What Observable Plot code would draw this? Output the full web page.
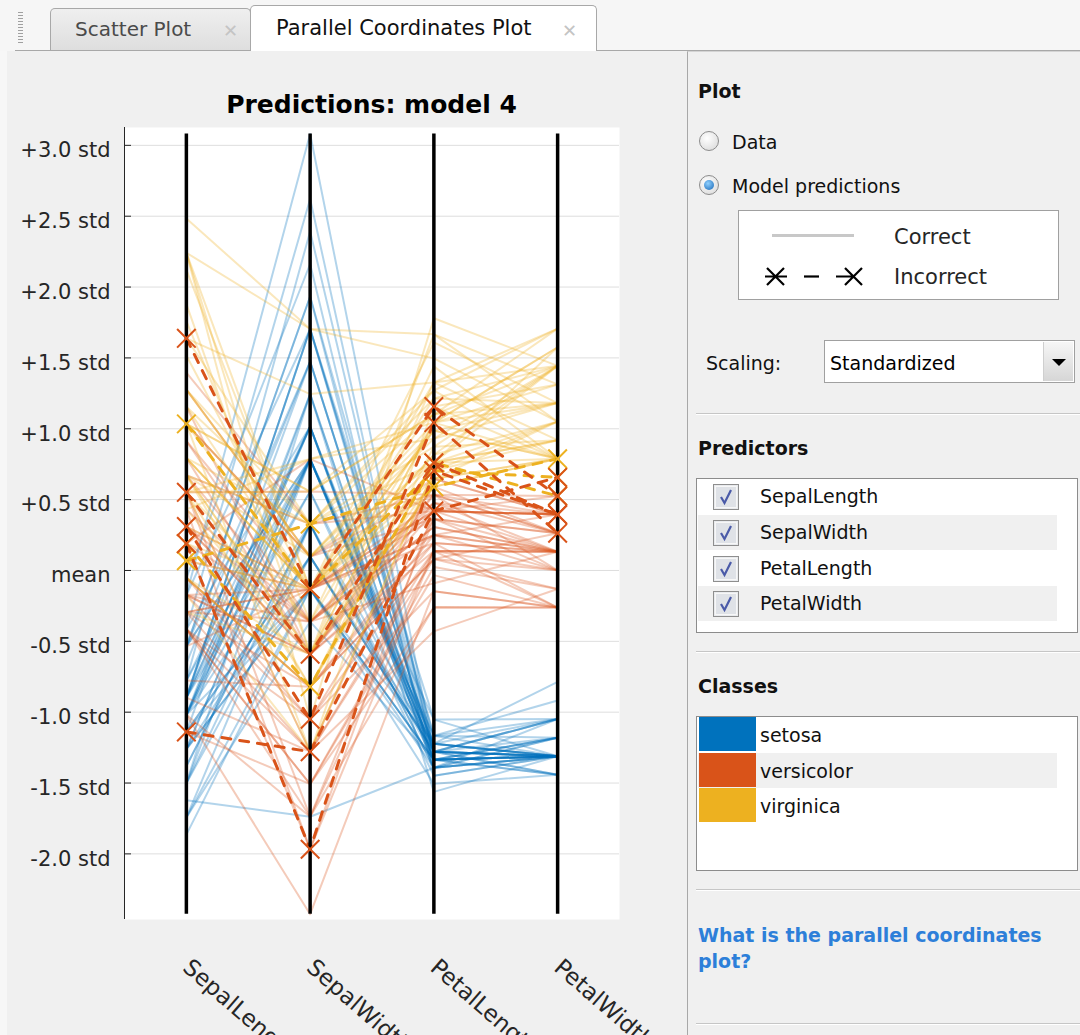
<!DOCTYPE html>
<html>
<head>
<meta charset="utf-8">
<script src="https://cdn.jsdelivr.net/npm/d3@7"></script>
<script src="https://cdn.jsdelivr.net/npm/@observablehq/plot@0.6"></script>
<style>
  html, body { margin:0; padding:0; }
  body { width:1080px; height:1035px; overflow:hidden; background:#f7f7f7; font-family:"DejaVu Sans", sans-serif; }
  #app { position:relative; width:1080px; height:1035px; overflow:hidden; }
  #app > div { box-sizing:border-box; }
</style>
</head>
<body>
<div id="app"></div>
<script>
// ---------------- DATA (Fisher iris, as plotted) ----------------
const classes = ["setosa", "versicolor", "virginica"];
const classColors = ["#0072BD", "#D95319", "#EDB120"];
const dims = ["SepalLength", "SepalWidth", "PetalLength", "PetalWidth"];

const sepalLength = [
  5.1,4.9,4.7,4.6,5.0,5.4,4.6,5.0,4.4,4.9,5.4,4.8,4.8,4.3,5.8,5.7,5.4,5.1,5.7,5.1,5.4,5.1,4.6,5.1,4.8,
  5.0,5.0,5.2,5.2,4.7,4.8,5.4,5.2,5.5,4.9,5.0,5.5,4.9,4.4,5.1,5.0,4.5,4.4,5.0,5.1,4.8,5.1,4.6,5.3,5.0,
  7.0,6.4,6.9,5.5,6.5,5.7,6.3,4.9,6.6,5.2,5.0,5.9,6.0,6.1,5.6,6.7,5.6,5.8,6.2,5.6,5.9,6.1,6.3,6.1,6.4,
  6.6,6.8,6.7,6.0,5.7,5.5,5.5,5.8,6.0,5.4,6.0,6.7,6.3,5.6,5.5,5.5,6.1,5.8,5.0,5.6,5.7,5.7,6.2,5.1,5.7,
  6.3,5.8,7.1,6.3,6.5,7.6,4.9,7.3,6.7,7.2,6.5,6.4,6.8,5.7,5.8,6.4,6.5,7.7,7.7,6.0,6.9,5.6,7.7,6.3,6.7,
  7.2,6.2,6.1,6.4,7.2,7.4,7.9,6.4,6.3,6.1,7.7,6.3,6.4,6.0,6.9,6.7,6.9,5.8,6.8,6.7,6.7,6.3,6.5,6.2,5.9
];
const sepalWidth = [
  3.5,3.0,3.2,3.1,3.6,3.9,3.4,3.4,2.9,3.1,3.7,3.4,3.0,3.0,4.0,4.4,3.9,3.5,3.8,3.8,3.4,3.7,3.6,3.3,3.4,
  3.0,3.4,3.5,3.4,3.2,3.1,3.4,4.1,4.2,3.1,3.2,3.5,3.6,3.0,3.4,3.5,2.3,3.2,3.5,3.8,3.0,3.8,3.2,3.7,3.3,
  3.2,3.2,3.1,2.3,2.8,2.8,3.3,2.4,2.9,2.7,2.0,3.0,2.2,2.9,2.9,3.1,3.0,2.7,2.2,2.5,3.2,2.8,2.5,2.8,2.9,
  3.0,2.8,3.0,2.9,2.6,2.4,2.4,2.7,2.7,3.0,3.4,3.1,2.3,3.0,2.5,2.6,3.0,2.6,2.3,2.7,3.0,2.9,2.9,2.5,2.8,
  3.3,2.7,3.0,2.9,3.0,3.0,2.5,2.9,2.5,3.6,3.2,2.7,3.0,2.5,2.8,3.2,3.0,3.8,2.6,2.2,3.2,2.8,2.8,2.7,3.3,
  3.2,2.8,3.0,2.8,3.0,2.8,3.8,2.8,2.8,2.6,3.0,3.4,3.1,3.0,3.1,3.1,3.1,2.7,3.2,3.3,3.0,2.5,3.0,3.4,3.0
];
const petalLength = [
  1.4,1.4,1.3,1.5,1.4,1.7,1.4,1.5,1.4,1.5,1.5,1.6,1.4,1.1,1.2,1.5,1.3,1.4,1.7,1.5,1.7,1.5,1.0,1.7,1.9,
  1.6,1.6,1.5,1.4,1.6,1.6,1.5,1.5,1.4,1.5,1.2,1.3,1.4,1.3,1.5,1.3,1.3,1.3,1.6,1.9,1.4,1.6,1.4,1.5,1.4,
  4.7,4.5,4.9,4.0,4.6,4.5,4.7,3.3,4.6,3.9,3.5,4.2,4.0,4.7,3.6,4.4,4.5,4.1,4.5,3.9,4.8,4.0,4.9,4.7,4.3,
  4.4,4.8,5.0,4.5,3.5,3.8,3.7,3.9,5.1,4.5,4.5,4.7,4.4,4.1,4.0,4.4,4.6,4.0,3.3,4.2,4.2,4.2,4.3,3.0,4.1,
  6.0,5.1,5.9,5.6,5.8,6.6,4.5,6.3,5.8,6.1,5.1,5.3,5.5,5.0,5.1,5.3,5.5,6.7,6.9,5.0,5.7,4.9,6.7,4.9,5.7,
  6.0,4.8,4.9,5.6,5.8,6.1,6.4,5.6,5.1,5.6,6.1,5.6,5.5,4.8,5.4,5.6,5.1,5.1,5.9,5.7,5.2,5.0,5.2,5.4,5.1
];
const petalWidth = [
  0.2,0.2,0.2,0.2,0.2,0.4,0.3,0.2,0.2,0.1,0.2,0.2,0.1,0.1,0.2,0.4,0.4,0.3,0.3,0.3,0.2,0.4,0.2,0.5,0.2,
  0.2,0.4,0.2,0.2,0.2,0.2,0.4,0.1,0.2,0.2,0.2,0.2,0.1,0.2,0.2,0.3,0.3,0.2,0.6,0.4,0.3,0.2,0.2,0.2,0.2,
  1.4,1.5,1.5,1.3,1.5,1.3,1.6,1.0,1.3,1.4,1.0,1.5,1.0,1.4,1.3,1.4,1.5,1.0,1.5,1.1,1.8,1.3,1.5,1.2,1.3,
  1.4,1.4,1.7,1.5,1.0,1.1,1.0,1.2,1.6,1.5,1.6,1.5,1.3,1.3,1.3,1.2,1.4,1.2,1.0,1.3,1.2,1.3,1.3,1.1,1.3,
  2.5,1.9,2.1,1.8,2.2,2.1,1.7,1.8,1.8,2.5,2.0,1.9,2.1,2.0,2.4,2.3,1.8,2.2,2.3,1.5,2.3,2.0,2.0,1.8,2.1,
  1.8,1.8,1.8,2.1,1.6,1.9,2.0,2.2,1.5,1.4,2.3,2.4,1.8,1.8,2.1,2.4,2.3,1.9,2.3,2.5,2.3,1.9,2.0,2.3,1.8
];
// true class index of each sample (0 setosa, 1 versicolor, 2 virginica)
const speciesCode = [
  0,0,0,0,0,0,0,0,0,0,0,0,0,0,0,0,0,0,0,0,0,0,0,0,0,0,0,0,0,0,0,0,0,0,0,0,0,0,0,0,0,0,0,0,0,0,0,0,0,0,
  1,1,1,1,1,1,1,1,1,1,1,1,1,1,1,1,1,1,1,1,1,1,1,1,1,1,1,1,1,1,1,1,1,1,1,1,1,1,1,1,1,1,1,1,1,1,1,1,1,1,
  2,2,2,2,2,2,2,2,2,2,2,2,2,2,2,2,2,2,2,2,2,2,2,2,2,2,2,2,2,2,2,2,2,2,2,2,2,2,2,2,2,2,2,2,2,2,2,2,2,2
];
// misclassified samples (1-based) and the class model 4 predicted for them
const incorrectIds = [71, 78, 84, 107, 120, 130, 134, 135];
const incorrectPredicted = ["virginica", "virginica", "virginica", "versicolor", "versicolor", "versicolor", "versicolor", "versicolor"];

const yTicks = [3, 2.5, 2, 1.5, 1, 0.5, 0, -0.5, -1, -1.5, -2];
const yTickLabels = ["+3.0 std", "+2.5 std", "+2.0 std", "+1.5 std", "+1.0 std", "+0.5 std", "mean", "-0.5 std", "-1.0 std", "-1.5 std", "-2.0 std"];
const yLimits = [-2.463, 3.126];
const xLimits = [0.5, 4.5];

// ---------------- build rows (standardized scaling) ----------------
const raw = [sepalLength, sepalWidth, petalLength, petalWidth];
const stats = raw.map(a => ({m: d3.mean(a), s: d3.deviation(a)}));
const predicted = speciesCode.map(c => classes[c]);
incorrectIds.forEach((id, k) => { predicted[id - 1] = incorrectPredicted[k]; });
const rows = [];
speciesCode.forEach((c, i) => {
  const correct = !incorrectIds.includes(i + 1);
  dims.forEach((dim, j) => rows.push({
    id: i + 1, dimIndex: j + 1, dim,
    value: (raw[j][i] - stats[j].m) / stats[j].s,
    predicted: predicted[i], correct
  }));
});
const correctRows = rows.filter(r => r.correct);
const incorrectRows = rows.filter(r => !r.correct);
const vMin = d3.min(rows, r => r.value), vMax = d3.max(rows, r => r.value);
const labelOf = new Map(yTicks.map((t, i) => [t, yTickLabels[i]]));

// ---------------- page scaffolding ----------------
const app = document.getElementById("app");
function el(css, html) {
  const e = document.createElement("div");
  e.style.cssText = "position:absolute;" + css;
  if (html != null) e.innerHTML = html;
  app.appendChild(e);
  return e;
}
function txt(x, baseline, str, size = 19, weight = "normal", color = "#111") {
  return el(`left:${x}px;top:${baseline - 0.846 * size}px;font-size:${size}px;line-height:${size}px;font-weight:${weight};color:${color};white-space:nowrap;`, str);
}

// tab strip
el("left:0;top:0;width:1080px;height:51px;background:#f6f6f6;");
el("left:18px;top:12px;width:5px;height:32px;background:repeating-linear-gradient(#a0a0a0 0 1px, transparent 1px 3px);");
el("left:15px;top:50px;width:1065px;height:1px;background:#a8a8a8;");
el("left:50px;top:8px;width:201px;height:42px;border:1px solid #a8a8a8;border-bottom:none;border-radius:5px 5px 0 0;background:linear-gradient(#efefef,#dedede);");
txt(75, 36, "Scatter Plot", 20, "normal", "#4a4a4a");
txt(223, 37, "✕", 18, "normal", "#c4c4c4");
el("left:250px;top:5px;width:347px;height:46px;border:1px solid #a8a8a8;border-bottom:none;border-radius:5px 5px 0 0;background:#ffffff;");
txt(276, 36, "Parallel Coordinates Plot", 21, "normal", "#111");
txt(562, 37, "✕", 18, "normal", "#c4c4c4");

// figure area
el("left:7px;top:51px;width:681px;height:984px;background:#f0f0f0;");

// ---------------- the chart ----------------
const chart = Plot.plot({
  width: 680, height: 915,
  marginLeft: 124, marginRight: 61, marginTop: 7, marginBottom: 116,
  style: "background: transparent; overflow: visible; font-family: 'DejaVu Sans', sans-serif;",
  x: {domain: xLimits, axis: null},
  y: {domain: yLimits, axis: null},
  color: {domain: classes, range: classColors},
  marks: [
    Plot.frame({fill: "white", stroke: null}),
    Plot.gridY(yTicks, {stroke: "#dedede", strokeOpacity: 1, strokeWidth: 1}),
    Plot.line(correctRows, {x: "dimIndex", y: "value", z: "id", stroke: "predicted", strokeOpacity: 0.3, strokeWidth: 2}),
    Plot.line(incorrectRows, {x: "dimIndex", y: "value", z: "id", stroke: "predicted", strokeWidth: 3, strokeDasharray: "9,9"}),
    Plot.ruleX(dims.map((d, j) => j + 1), {y1: vMin, y2: vMax, stroke: "black", strokeWidth: 3.5}),
    Plot.dot(incorrectRows, {x: "dimIndex", y: "value", symbol: "times", r: 8.5, stroke: "predicted", strokeWidth: 2}),
    Plot.ruleX([xLimits[0]], {stroke: "#262626", strokeWidth: 1}),
    Plot.tickY(yTicks, {y: d => d, insetRight: 495 - 7, stroke: "#262626", strokeWidth: 1}),
    Plot.axisY(yTicks, {label: null, tickSize: 0, tickPadding: 14, dy: 5, tickFormat: d => labelOf.get(d), fontSize: 21, fill: "#262626"}),
    Plot.axisX(dims.map((d, j) => j + 1), {label: null, tickSize: 0, tickPadding: 0, tickRotate: 41, textAnchor: "start", lineAnchor: "bottom", dx: -5, dy: 50, tickFormat: d => dims[d - 1], fontSize: 23, fill: "#262626"})
  ]
});
const holder = el("left:0;top:120px;width:680px;height:915px;");
holder.appendChild(chart);

// title
el("left:124px;top:" + (113 - 0.846 * 25) + "px;width:495px;text-align:center;font-size:25px;line-height:25px;font-weight:bold;color:#000;white-space:nowrap;", "Predictions: model 4");

// ---------------- right control panel ----------------
el("left:687px;top:51px;width:393px;height:984px;background:#f0f0f0;border-left:1px solid #a8a8a8;border-top:1px solid #d4d4d4;");
function sep(y) { el(`left:696px;top:${y}px;width:384px;height:2px;border-top:1px solid #c6c6c6;border-bottom:1px solid #ffffff;`); }

txt(698, 98, "Plot", 19, "bold");
// radios
el("left:699px;top:131px;width:20px;height:20px;border-radius:50%;border:1px solid #8c8c8c;background:radial-gradient(circle at 40% 35%, #ffffff, #d6d6d6);");
txt(732, 149, "Data", 19);
el("left:699px;top:175px;width:20px;height:20px;border-radius:50%;border:1px solid #8c8c8c;background:radial-gradient(circle at 40% 35%, #ffffff, #d6d6d6);");
el("left:704px;top:180px;width:10px;height:10px;border-radius:50%;background:radial-gradient(circle at 40% 35%, #8fd0ff, #1565b5);");
txt(732, 193, "Model predictions", 19);

// legend box
el("left:738px;top:210px;width:321px;height:90px;background:#fff;border:1px solid #a0a0a0;");
el("left:772px;top:234px;width:82px;height:3px;background:#c8c8c8;");
txt(894, 245, "Correct", 21, "normal", "#262626");
el("left:760px;top:264px;width:110px;height:26px;",
  `<svg width="110" height="26" viewBox="0 0 110 26" style="display:block">
     <g stroke="#000" stroke-width="2.2" fill="none">
       <path d="M7,4 L24,21 M7,21 L24,4 M5,12.5 L27,12.5"/>
       <path d="M44,12.5 L59,12.5"/>
       <path d="M76,12.5 L94,12.5 M85,4 L102,21 M85,21 L102,4"/>
     </g></svg>`);
txt(894, 285, "Incorrect", 21, "normal", "#262626");

// scaling
txt(706, 370, "Scaling:", 19);
el("left:824px;top:340px;width:251px;height:43px;background:#fff;border:1px solid #a0a0a0;");
el("left:1043px;top:342px;width:30px;height:39px;background:linear-gradient(#f6f6f6,#d6d6d6);border-left:1px solid #cfcfcf;",
  `<svg width="30" height="39" style="display:block"><path d="M8,17 L22,17 L15,24 Z" fill="#000"/></svg>`);
txt(830, 370, "Standardized", 19, "normal", "#000");

sep(413);

// predictors
txt(698, 455, "Predictors", 19, "bold");
el("left:696px;top:478px;width:382px;height:155px;background:#fff;border:1px solid #8c8c8c;");
const check = `<svg width="26" height="26" style="display:block"><rect x="0.5" y="0.5" width="25" height="25" fill="#e9ebee" stroke="#8e8e8e"/><rect x="2.5" y="2.5" width="21" height="21" fill="#dfe2e7" stroke="#f7f7f7"/><path d="M8,13 L11.5,19 L18,6" fill="none" stroke="#4a5aa8" stroke-width="2.2"/></svg>`;
dims.forEach((d, i) => {
  const top = 479 + i * 35.8;
  el(`left:698px;top:${top}px;width:359px;height:35px;background:${i % 2 ? "#f0f0f0" : "#ffffff"};`);
  el(`left:713px;top:${top + 5}px;width:26px;height:26px;`, check);
  txt(760, top + 24, d, 19);
});

sep(651);

// classes
txt(698, 693, "Classes", 19, "bold");
el("left:696px;top:716px;width:382px;height:155px;background:#fff;border:1px solid #8c8c8c;");
classes.forEach((c, i) => {
  const top = 717 + i * 35.7;
  el(`left:698px;top:${top}px;width:359px;height:35px;background:${i % 2 ? "#f0f0f0" : "#ffffff"};`);
  el(`left:699px;top:${top}px;width:57px;height:34px;background:${classColors[i]};`);
  txt(760, top + 25, c, 19);
});

sep(889);

txt(698, 942, "What is the parallel coordinates", 19, "bold", "#2d7fd9");
txt(698, 968, "plot?", 19, "bold", "#2d7fd9");

sep(1023);
</script>
</body>
</html>
